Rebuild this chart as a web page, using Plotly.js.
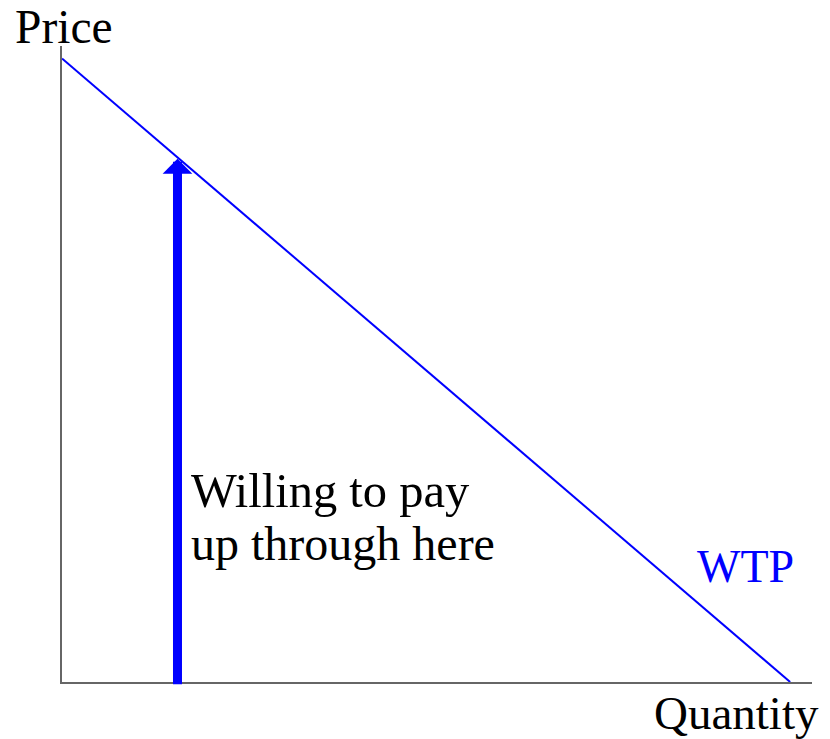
<!DOCTYPE html>
<html>
<head>
<meta charset="utf-8">
<script src="https://cdn.plot.ly/plotly-3.0.1.min.js"></script>
<style>html,body{margin:0;padding:0;background:#fff;}#chart{width:830px;height:739px;}</style>
</head>
<body>
<div id="chart"></div>
<script>
// Demand (willingness to pay) curve
var quantity = [0, 10];
var price = [10, 0];
// Arrow showing willingness to pay at one quantity
var arrowQuantity = 1.586;
var arrowBottom = -0.06;
var arrowTop = 8.39;
// Labels
var labelPrice = "Price";
var labelQuantity = "Quantity";
var labelCurve = "WTP";
var labelArrowLines = ["Willing to pay", "up through here"];

var font = "'Liberation Serif', 'Times New Roman', Times, serif";

var trace = {
  x: quantity, y: price, type: "scatter", mode: "lines",
  line: {color: "#0000ff", width: 2}, hoverinfo: "skip", showlegend: false
};

var annotations = [
  {x: arrowQuantity, y: arrowTop, ax: arrowQuantity, ay: arrowBottom,
   xref: "x", yref: "y", axref: "x", ayref: "y", text: "",
   showarrow: true, arrowhead: 1, arrowsize: 0.55, arrowwidth: 9,
   arrowcolor: "#0000ff", standoff: 0, startstandoff: 0},
  {x: 0.0027, y: 1.0305, xref: "paper", yref: "paper", text: labelPrice,
   showarrow: false, xanchor: "center", yanchor: "middle", borderpad: 0,
   font: {family: font, size: 47.5, color: "#000"}},
  {x: 0.899, y: -0.048, xref: "paper", yref: "paper", text: labelQuantity,
   showarrow: false, xanchor: "center", yanchor: "middle",
   font: {family: font, size: 47, color: "#000"}},
  {x: 0.9107, y: 0.1816, xref: "paper", yref: "paper", text: labelCurve,
   showarrow: false, xanchor: "center", yanchor: "middle",
   font: {family: font, size: 46, color: "#0000ff"}},
  {x: 0.1693, y: 0.301, xref: "paper", yref: "paper", text: labelArrowLines[0],
   showarrow: false, xanchor: "left", yanchor: "middle",
   font: {family: font, size: 48.5, color: "#000"}},
  {x: 0.1693, y: 0.2185, xref: "paper", yref: "paper", text: labelArrowLines[1],
   showarrow: false, xanchor: "left", yanchor: "middle",
   font: {family: font, size: 48, color: "#000"}}
];

var layout = {
  width: 830, height: 739,
  margin: {l: 62, r: 18, t: 46, b: 57, pad: 0},
  paper_bgcolor: "#fff", plot_bgcolor: "#fff",
  font: {family: font},
  xaxis: {range: [0, 10.3], showline: true, linecolor: "#666", linewidth: 2,
          showgrid: false, zeroline: false, showticklabels: false, ticks: "", fixedrange: true},
  yaxis: {range: [0, 10.2], showline: true, linecolor: "#666", linewidth: 2,
          showgrid: false, zeroline: false, showticklabels: false, ticks: "", fixedrange: true},
  annotations: annotations,
  showlegend: false
};

Plotly.newPlot("chart", [trace], layout, {displayModeBar: false, staticPlot: true});
</script>
</body>
</html>
